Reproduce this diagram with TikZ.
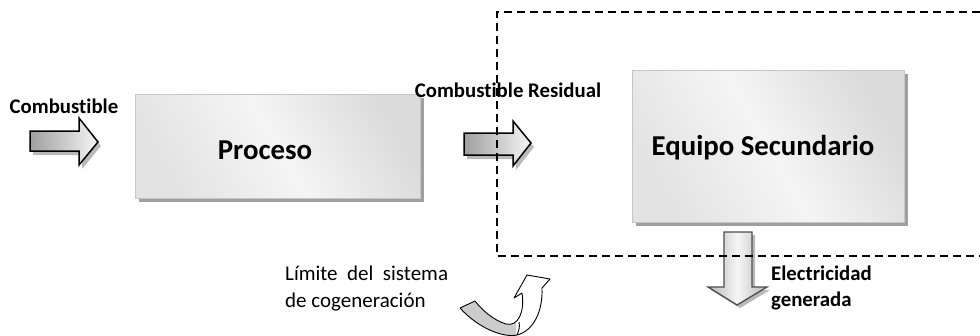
\documentclass[tikz,border=0pt]{standalone}
\usepackage{fontspec}
\setmainfont{Carlito}[Ligatures=NoCommon]
\usetikzlibrary{shadows}
\begin{document}
\begin{tikzpicture}[x=1pt,y=-1pt,
  boxstyle/.style={draw=gray!45, line width=0.8pt, inner sep=0pt,
    left color=gray!28, right color=gray!22, middle color=white!92!gray, shading angle=-60,
    drop shadow={shadow xshift=4pt, shadow yshift=-4pt, fill=gray!75, opacity=1}},
  bigtext/.style={font=\bfseries\fontsize{28.8}{34}\selectfont, inner sep=0pt},
  lbl/.style={font=\bfseries\fontsize{20.8}{26}\selectfont, inner sep=0pt},
  lblr/.style={font=\fontsize{21}{27}\selectfont, inner sep=0pt},
  blockarrow/.style={draw=black, line width=1.5pt, line join=miter, left color=gray!75, right color=gray!8},
  downarrow/.style={draw=gray!60!black, line width=1.3pt, line join=miter, left color=gray!55, right color=gray!55, middle color=gray!8},
  arrshadow/.style={fill=gray!55},
  boundary/.style={line width=1.5pt, dash pattern=on 8pt off 5pt}]
\useasboundingbox (0,0) rectangle (980,335);

% boxes
\node[boxstyle, minimum width=285pt, minimum height=104pt] (proceso) at (277.5,146) {};
\node[bigtext] (tproceso) at (265,150) {Proceso};
\node[boxstyle, minimum width=272pt, minimum height=152pt] (equipo) at (768,146) {};
\node[bigtext] (tequipo) at (763,148) {Equipo Secundario};

% Combustible arrow
\fill[arrshadow, shift={(3,4)}] (30,131) -- (79,131) -- (79,118) -- (98,142) -- (79,165) -- (79,151) -- (30,151) -- cycle;
\draw[blockarrow] (30,131) -- (79,131) -- (79,118) -- (98,142) -- (79,165) -- (79,151) -- (30,151) -- cycle;
\node[lbl] (comb) at (64,106) {Combustible};

% Combustible residual arrow
\fill[arrshadow, shift={(3,4)}] (464,133) -- (513,133) -- (513,121) -- (531,143) -- (513,166) -- (513,155) -- (464,155) -- cycle;
\draw[blockarrow] (464,133) -- (513,133) -- (513,121) -- (531,143) -- (513,166) -- (513,155) -- (464,155) -- cycle;
\node[lbl] (resid) at (508,90) {Combustible Residual};

% Electricidad arrow
\fill[arrshadow, shift={(3,3)}] (724,232) -- (752,232) -- (752,287) -- (767,287) -- (737,305) -- (708,287) -- (724,287) -- cycle;
\draw[downarrow] (724,232) -- (752,232) -- (752,287) -- (767,287) -- (737,305) -- (708,287) -- (724,287) -- cycle;
\node[lbl, anchor=west, align=left] (elec) at (771,288) {Electricidad\\generada};

% Limite label
\node[lblr, anchor=west, align=left] (limite) at (285,289) {Límite\ \ del\ \ sistema\\de cogeneración};

% curved arrow
\def\curvedpath{(460,308) .. controls (478,328) and (503,338) .. (517,335)
   .. controls (533,331) and (543,312) .. (542,288)
   -- (550,279) -- (527,275) -- (514,298) -- (522,293)
   .. controls (525,312) and (518,327) .. (506,324)
   .. controls (493,320) and (482,310) .. (475,301) -- cycle}
\fill[white] \curvedpath;
\begin{scope}
  \clip (440,290) rectangle (516,340);
  \fill[gray!40] \curvedpath;
\end{scope}
\draw[line width=0.9pt, line join=round] \curvedpath;
\draw[line width=0.9pt] (517,335) .. controls (519,330) and (520,327) .. (519,322);

% system boundary
\coordinate (bTL) at (497,12);
\coordinate (bTR) at (980,12);
\coordinate (bBL) at (497,256);
\coordinate (bBR) at (980,256);
\draw[boundary] (bTR) -- (bTL) -- (bBL) -- (bBR);
\end{tikzpicture}
\end{document}
